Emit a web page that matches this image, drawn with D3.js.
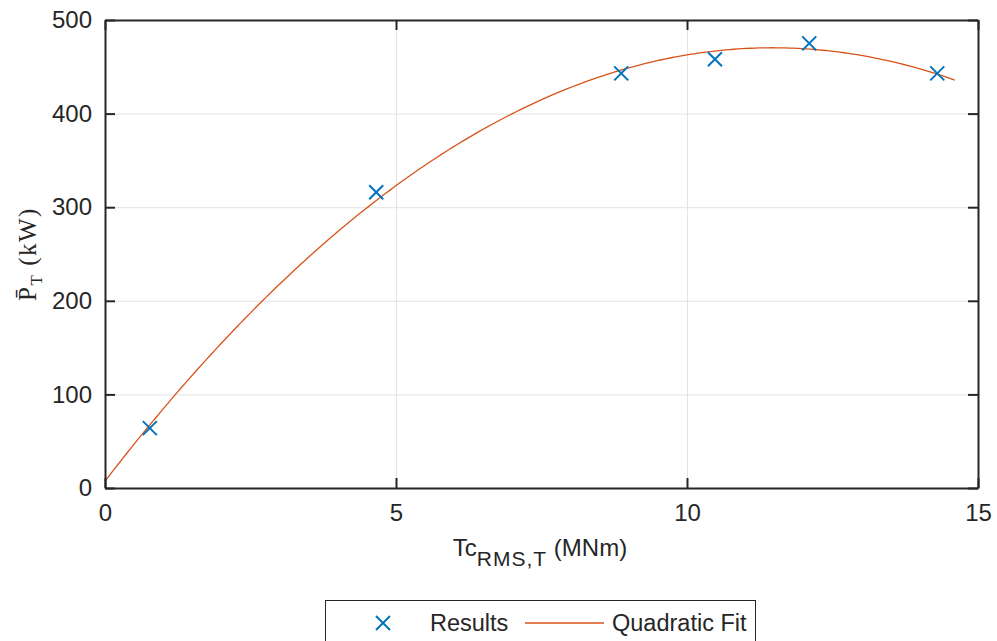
<html>
<head>
<style>
  body { margin: 0; background: #fff; }
  text { font-family: "Liberation Sans", Arial, sans-serif; fill: #262626; }
</style>
</head>
<body>
<svg id="chart" width="997" height="641"></svg>
<script src="https://cdn.jsdelivr.net/npm/d3@7"></script>
<script>
  // results
  let torque = [0.77, 4.66, 8.87, 10.48, 12.10, 14.30]
  let power = [64, 316, 443, 458, 475, 443]
  let xTicks = [0, 5, 10, 15]
  let yTicks = [0, 100, 200, 300, 400, 500]
  let fitRange = [0, 14.6]

  let svg = d3.select("#chart")
  let pLeft = 105, pRight = 978, pTop = 20, pBottom = 488

  let x = d3.scaleLinear().domain([0, 15]).range([pLeft, pRight])
  let y = d3.scaleLinear().domain([0, 500]).range([pBottom, pTop])

  // least squares quadratic fit of the results
  function quadFit(xs, ys) {
    let S = [0, 0, 0, 0, 0], T = [0, 0, 0]
    xs.forEach((xv, i) => {
      for (let k = 0; k < 5; k++) S[k] += Math.pow(xv, k)
      for (let k = 0; k < 3; k++) T[k] += ys[i] * Math.pow(xv, k)
    })
    let A = [[S[0], S[1], S[2], T[0]], [S[1], S[2], S[3], T[1]], [S[2], S[3], S[4], T[2]]]
    for (let i = 0; i < 3; i++) {
      for (let j = i + 1; j < 3; j++) {
        let f = A[j][i] / A[i][i]
        for (let k = i; k < 4; k++) A[j][k] -= f * A[i][k]
      }
    }
    let c = [0, 0, 0]
    for (let i = 2; i >= 0; i--) {
      let s = A[i][3]
      for (let k = i + 1; k < 3; k++) s -= A[i][k] * c[k]
      c[i] = s / A[i][i]
    }
    return c
  }
  let coef = quadFit(torque, power)
  let fitX = d3.range(0, 201).map(i => fitRange[0] + (fitRange[1] - fitRange[0]) * i / 200)

  // grid
  let grid = svg.append("g").attr("stroke", "#e3e3e3").attr("stroke-width", 1)
  grid.selectAll(".gx").data(xTicks.slice(1, -1)).enter().append("line")
    .attr("x1", d => x(d) + 0.5).attr("x2", d => x(d) + 0.5).attr("y1", pTop).attr("y2", pBottom)
  grid.selectAll(".gy").data(yTicks.slice(1, -1)).enter().append("line")
    .attr("y1", d => y(d) + 0.5).attr("y2", d => y(d) + 0.5).attr("x1", pLeft).attr("x2", pRight)

  // fit line
  svg.append("path")
    .datum(fitX)
    .attr("fill", "none")
    .attr("stroke", "#D95319")
    .attr("stroke-width", 1.3)
    .attr("d", d3.line().x(d => x(d)).y(d => y(coef[0] + coef[1] * d + coef[2] * d * d)))

  // markers
  let m = 7
  let marks = svg.append("g").attr("stroke", "#0072BD").attr("stroke-width", 2)
  torque.forEach((t, i) => {
    let cx = x(t), cy = y(power[i])
    marks.append("line").attr("x1", cx - m).attr("y1", cy - m).attr("x2", cx + m).attr("y2", cy + m)
    marks.append("line").attr("x1", cx - m).attr("y1", cy + m).attr("x2", cx + m).attr("y2", cy - m)
  })

  // axes with inward ticks
  let axisColor = "#262626"
  let axB = svg.append("g").attr("transform", `translate(0,${pBottom})`)
    .call(d3.axisBottom(x).tickValues(xTicks).tickSizeInner(-10).tickSizeOuter(0).tickPadding(16))
  let axT = svg.append("g").attr("transform", `translate(0,${pTop})`)
    .call(d3.axisTop(x).tickValues(xTicks).tickSizeInner(-10).tickSizeOuter(0).tickFormat(""))
  let axL = svg.append("g").attr("transform", `translate(${pLeft},0)`)
    .call(d3.axisLeft(y).tickValues(yTicks).tickSizeInner(-10).tickSizeOuter(0).tickPadding(13))
  let axR = svg.append("g").attr("transform", `translate(${pRight},0)`)
    .call(d3.axisRight(y).tickValues(yTicks).tickSizeInner(-10).tickSizeOuter(0).tickFormat(""))
  ;[axB, axT, axL, axR].forEach(a => {
    a.selectAll("path").attr("stroke", axisColor).attr("stroke-width", 2)
    a.selectAll("line").attr("stroke", axisColor).attr("stroke-width", 2)
    a.selectAll("text").attr("font-size", 24).attr("fill", axisColor)
      .attr("font-family", "'Liberation Sans', Arial, sans-serif")
  })

  // axis labels
  let xl = svg.append("text").attr("x", 540).attr("y", 556).attr("text-anchor", "middle")
    .attr("font-size", 24)
  xl.append("tspan").text("Tc")
  xl.append("tspan").attr("dy", 10).attr("font-size", 21).attr("letter-spacing", 1).text("RMS,T")
  xl.append("tspan").attr("dy", -10).text(" (MNm)")

  let yl = svg.append("text").attr("transform", "translate(36,254) rotate(-90)")
    .attr("text-anchor", "middle").attr("font-size", 25).attr("letter-spacing", 1.5)
    .style("font-family", "'Liberation Serif', 'Times New Roman', serif")
  yl.append("tspan").text("P\u0304")
  yl.append("tspan").attr("dy", 6).attr("font-size", 17).text("T")
  yl.append("tspan").attr("dy", -6).text(" (kW)")

  // legend
  let lg = svg.append("g")
  lg.append("rect").attr("x", 325.5).attr("y", 600.5).attr("width", 430).attr("height", 60)
    .attr("fill", "#fff").attr("stroke", "#262626").attr("stroke-width", 1)
  let ly = 623
  lg.append("line").attr("x1", 383 - 7).attr("y1", ly - 7).attr("x2", 383 + 7).attr("y2", ly + 7)
    .attr("stroke", "#0072BD").attr("stroke-width", 2)
  lg.append("line").attr("x1", 383 - 7).attr("y1", ly + 7).attr("x2", 383 + 7).attr("y2", ly - 7)
    .attr("stroke", "#0072BD").attr("stroke-width", 2)
  lg.append("text").attr("x", 430).attr("y", ly + 8).attr("font-size", 23.5).text("Results")
  lg.append("line").attr("x1", 525).attr("x2", 604).attr("y1", ly).attr("y2", ly)
    .attr("stroke", "#D95319").attr("stroke-width", 1.3)
  lg.append("text").attr("x", 612).attr("y", ly + 8).attr("font-size", 23.5).text("Quadratic Fit")
</script>
</body>
</html>
